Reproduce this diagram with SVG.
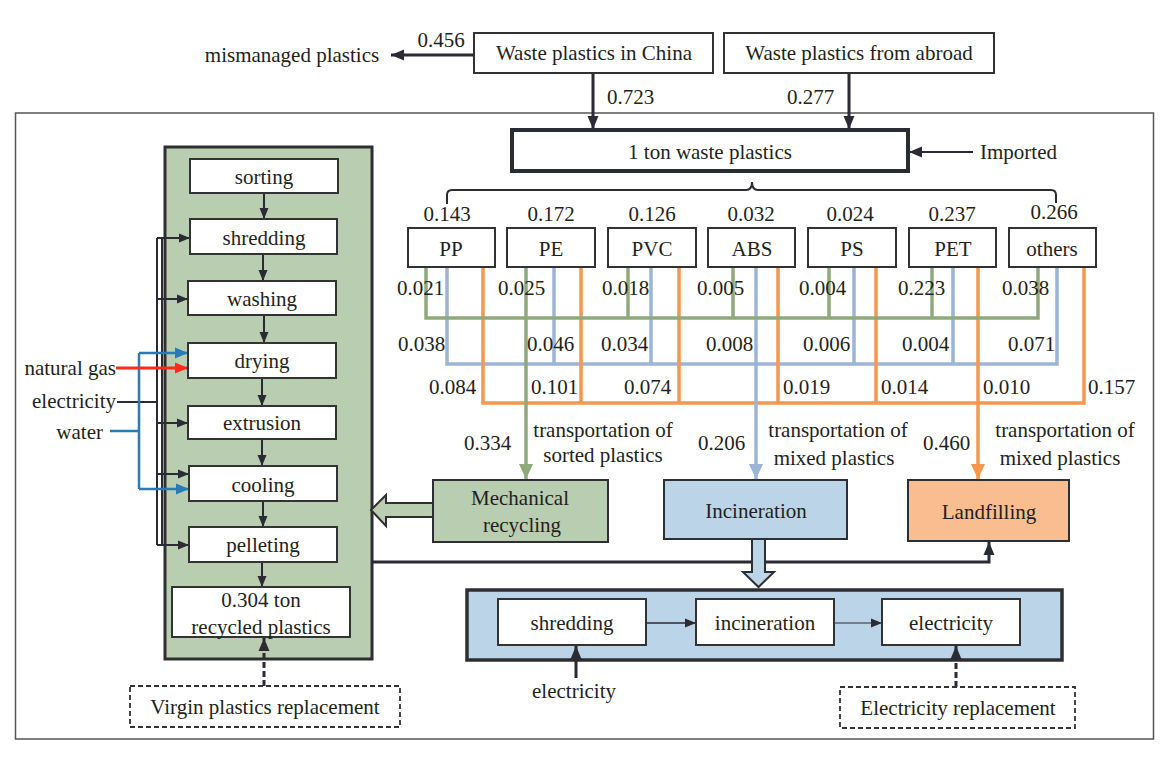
<svg xmlns="http://www.w3.org/2000/svg" width="1171" height="758" viewBox="0 0 1171 758" font-family="Liberation Serif, DejaVu Serif, Times New Roman, serif">
<defs>
<style>
text{font-family:"Liberation Serif","DejaVu Serif","Times New Roman",serif;font-size:21px;fill:#231f20}
.c{text-anchor:middle}
.r{text-anchor:end}
.box{fill:#fff;stroke:#333;stroke-width:2}
.dk{fill:none;stroke:#2b2b33;stroke-width:2}
.dk3{fill:none;stroke:#2b2b33;stroke-width:3}
.g{fill:none;stroke:#8eaa7b;stroke-width:3.5}
.b{fill:none;stroke:#9cb4d6;stroke-width:3.5}
.o{fill:none;stroke:#f8974c;stroke-width:3.5}
.dash{fill:#fff;stroke:#333;stroke-width:1.8;stroke-dasharray:5,3}
</style>
<marker id="ad" markerUnits="userSpaceOnUse" markerWidth="14" markerHeight="14" viewBox="0 0 14 14" refX="13" refY="7" orient="auto"><path d="M0,1.5 L13,7 L0,12.5 Z" fill="#2b2b33"/></marker>
<marker id="as" markerUnits="userSpaceOnUse" markerWidth="12" markerHeight="12" viewBox="0 0 12 12" refX="11" refY="6" orient="auto"><path d="M0,1.5 L11,6 L0,10.5 Z" fill="#2b2b33"/></marker>
<marker id="ag" markerUnits="userSpaceOnUse" markerWidth="16" markerHeight="16" viewBox="0 0 16 16" refX="15" refY="8" orient="auto"><path d="M0,1 L15,8 L0,15 Z" fill="#8eaa7b"/></marker>
<marker id="ab" markerUnits="userSpaceOnUse" markerWidth="16" markerHeight="16" viewBox="0 0 16 16" refX="15" refY="8" orient="auto"><path d="M0,1 L15,8 L0,15 Z" fill="#9cb4d6"/></marker>
<marker id="ao" markerUnits="userSpaceOnUse" markerWidth="16" markerHeight="16" viewBox="0 0 16 16" refX="15" refY="8" orient="auto"><path d="M0,1 L15,8 L0,15 Z" fill="#f8974c"/></marker>
<marker id="ar" markerUnits="userSpaceOnUse" markerWidth="14" markerHeight="14" viewBox="0 0 14 14" refX="13" refY="7" orient="auto"><path d="M0,1.5 L13,7 L0,12.5 Z" fill="#ff2a1a"/></marker>
<marker id="aw" markerUnits="userSpaceOnUse" markerWidth="14" markerHeight="14" viewBox="0 0 14 14" refX="13" refY="7" orient="auto"><path d="M0,1.5 L13,7 L0,12.5 Z" fill="#2a7ab5"/></marker>
</defs>
<rect width="1171" height="758" fill="#fff"/>

<!-- outer frame -->
<rect id="frame" x="15.5" y="113" width="1138" height="626" fill="none" stroke="#555" stroke-width="1.5"/>

<!-- panels -->
<g id="recycling-panel"><rect x="165" y="147" width="207" height="512" fill="#b9cdb0" stroke="#2f2f33" stroke-width="3"/></g>
<g id="incineration-panel"><rect x="467" y="590" width="595" height="70" fill="#bcd4e7" stroke="#2f2f33" stroke-width="3.5"/></g>

<g id="connectors">
  <line class="dk3" x1="474" y1="55" x2="391" y2="55" marker-end="url(#ad)"/>
  <line class="dk3" x1="593" y1="73" x2="593" y2="129" marker-end="url(#ad)"/>
  <line class="dk3" x1="849" y1="73" x2="849" y2="129" marker-end="url(#ad)"/>
  <line class="dk" x1="973" y1="152" x2="909" y2="152" marker-end="url(#ad)"/>
  <path class="dk" stroke-width="1.6" d="M447,204 V195 Q447,190 452,190 H746 Q752,190 752,182 Q752,190 758,190 H1051 Q1056,190 1056,195 V203"/>

  <path class="b" d="M447,267 V364 H1057 V267 M554,267 V364 M651,267 V364 M854,267 V364 M953,267 V364"/>
  <path class="o" d="M483,267 V403 H1084 V267 M581,267 V403 M679,267 V403 M778,267 V403 M876,267 V403"/>
  <path class="o" d="M978,267 V479" marker-end="url(#ao)"/>
  <path class="b" d="M756,267 V479" marker-end="url(#ab)"/>
  <path class="g" d="M426,267 V318 H1038 V267 M628,267 V318 M733,267 V318 M829,267 V318 M932,267 V318"/>
  <path class="g" d="M526,267 V479" marker-end="url(#ag)"/>

  <line class="dk" x1="264" y1="193" x2="264" y2="219" marker-end="url(#as)"/>
  <line class="dk" x1="263" y1="254" x2="263" y2="281" marker-end="url(#as)"/>
  <line class="dk" x1="264" y1="315" x2="264" y2="343" marker-end="url(#as)"/>
  <line class="dk" x1="262" y1="378" x2="262" y2="406" marker-end="url(#as)"/>
  <line class="dk" x1="262" y1="439" x2="262" y2="466" marker-end="url(#as)"/>
  <line class="dk" x1="263" y1="501" x2="263" y2="527" marker-end="url(#as)"/>
  <line class="dk" x1="262" y1="562" x2="262" y2="587" marker-end="url(#as)"/>

  <path class="dk" d="M117,402 H157 M157,238 V545 M162,238 V545"/>
  <line class="dk" x1="157" y1="238" x2="190" y2="238" marker-end="url(#as)"/>
  <line class="dk" x1="157" y1="299" x2="188" y2="299" marker-end="url(#as)"/>
  <line class="dk" x1="157" y1="423" x2="188" y2="423" marker-end="url(#as)"/>
  <line class="dk" x1="157" y1="474" x2="189" y2="474" marker-end="url(#as)"/>
  <line class="dk" x1="157" y1="545" x2="189" y2="545" marker-end="url(#as)"/>
  <path fill="none" stroke="#2a7ab5" stroke-width="2.5" d="M110,431 H139 M139,353 V489"/>
  <line stroke="#2a7ab5" stroke-width="2.5" x1="139" y1="353" x2="188" y2="353" marker-end="url(#aw)"/>
  <line stroke="#2a7ab5" stroke-width="2.5" x1="139" y1="489" x2="189" y2="489" marker-end="url(#aw)"/>
  <line stroke="#ff2a1a" stroke-width="3" x1="116" y1="368" x2="188" y2="368" marker-end="url(#ar)"/>

  <path class="dk3" d="M372,562 H989 V542" marker-end="url(#ad)"/>

  <polygon points="433,503 386,503 386,495 371,510 386,526 386,517 433,517" fill="#b9cdb0" stroke="#2f2f33" stroke-width="2"/>
  <polygon points="752,539 765,539 765,572 774,572 758.5,587 743,572 752,572" fill="#bcd4e7" stroke="#2f2f33" stroke-width="2"/>

  <line stroke="#2b2b33" stroke-width="1.5" x1="646" y1="623" x2="696" y2="623" marker-end="url(#as)"/>
  <line stroke="#2b2b33" stroke-width="1.2" x1="834" y1="623" x2="882" y2="623" marker-end="url(#as)"/>
  <line class="dk3" x1="576" y1="678" x2="576" y2="646" marker-end="url(#ad)"/>
  <line class="dk3" stroke-dasharray="6,3" x1="956" y1="687" x2="956" y2="646" marker-end="url(#ad)"/>
  <line class="dk3" stroke-dasharray="6,3" x1="264" y1="686" x2="264" y2="638" marker-end="url(#ad)"/>
</g>

<g id="mismanaged"><text class="c" x="292" y="62">mismanaged  plastics</text><text class="c" x="441" y="47">0.456</text></g>
<g id="china"><rect class="box" x="474" y="33" width="239" height="40"/><text class="c" x="594" y="60">Waste plastics in China</text></g>
<g id="abroad"><rect class="box" x="724" y="33" width="270" height="40"/><text class="c" x="859" y="60">Waste plastics from abroad</text></g>
<text x="607" y="104">0.723</text>
<text x="787" y="104">0.277</text>
<g id="one-ton"><rect x="512" y="130" width="396" height="41" fill="#fff" stroke="#2b2b33" stroke-width="4"/><text class="c" x="710" y="159">1 ton waste plastics</text></g>
<g id="imported"><text x="980" y="159">Imported</text></g>

<g id="pp"><rect class="box" x="408" y="228" width="87" height="39"/><text class="c" x="451" y="256">PP</text><text class="c" x="447" y="221">0.143</text></g>
<g id="pe"><rect class="box" x="507" y="228" width="88" height="39"/><text class="c" x="551" y="256">PE</text><text class="c" x="551" y="221">0.172</text></g>
<g id="pvc"><rect class="box" x="608" y="228" width="88" height="39"/><text class="c" x="652" y="256">PVC</text><text class="c" x="652" y="221">0.126</text></g>
<g id="abs"><rect class="box" x="708" y="228" width="87" height="39"/><text class="c" x="752" y="256">ABS</text><text class="c" x="751" y="221">0.032</text></g>
<g id="ps"><rect class="box" x="808" y="228" width="88" height="39"/><text class="c" x="852" y="256">PS</text><text class="c" x="850" y="221">0.024</text></g>
<g id="pet"><rect class="box" x="909" y="228" width="87" height="39"/><text class="c" x="953" y="256">PET</text><text class="c" x="952" y="221">0.237</text></g>
<g id="others"><rect class="box" x="1009" y="228" width="87" height="39"/><text class="c" x="1052" y="256">others</text><text class="c" x="1054" y="219">0.266</text></g>

<g id="labels">
  <text x="397" y="295">0.021</text><text x="498" y="295">0.025</text><text x="602" y="295">0.018</text><text x="697" y="295">0.005</text>
  <text x="799" y="295">0.004</text><text x="898" y="295">0.223</text><text x="1002" y="295">0.038</text>
  <text x="398" y="351">0.038</text><text x="527" y="351">0.046</text><text x="601" y="351">0.034</text><text x="706" y="351">0.008</text>
  <text x="803" y="351">0.006</text><text x="902" y="351">0.004</text><text x="1008" y="351">0.071</text>
  <text x="429" y="394">0.084</text><text x="531" y="394">0.101</text><text x="624" y="394">0.074</text><text x="783" y="394">0.019</text>
  <text x="881" y="394">0.014</text><text x="983" y="394">0.010</text><text x="1088" y="394">0.157</text>
  <text x="464" y="450">0.334</text>
  <text class="c" x="603" y="437">transportation of</text><text class="c" x="603" y="462">sorted plastics</text>
  <text x="698" y="450">0.206</text>
  <text class="c" x="838" y="437">transportation of</text><text class="c" x="834" y="465">mixed plastics</text>
  <text x="923" y="450">0.460</text>
  <text class="c" x="1065" y="437">transportation of</text><text class="c" x="1060" y="465">mixed plastics</text>
</g>

<g id="mechanical"><rect x="433" y="480" width="175" height="62" fill="#b9cdb0" stroke="#2f2f33" stroke-width="2"/><text class="c" x="520" y="505">Mechanical</text><text class="c" x="522" y="532">recycling</text></g>
<g id="incineration"><rect x="664" y="480" width="183" height="59" fill="#bcd4e7" stroke="#2f2f33" stroke-width="2"/><text class="c" x="756" y="518">Incineration</text></g>
<g id="landfilling"><rect x="908" y="480" width="161" height="61" fill="#f9bd8f" stroke="#2f2f33" stroke-width="2"/><text class="c" x="989" y="519">Landfilling</text></g>

<g id="sorting"><rect class="box" x="190" y="159" width="148" height="34"/><text class="c" x="264" y="184">sorting</text></g>
<g id="shredding"><rect class="box" x="190" y="219" width="147" height="35"/><text class="c" x="264" y="245">shredding</text></g>
<g id="washing"><rect class="box" x="188" y="281" width="148" height="34"/><text class="c" x="262" y="306">washing</text></g>
<g id="drying"><rect class="box" x="188" y="343" width="148" height="35"/><text class="c" x="262" y="368">drying</text></g>
<g id="extrusion"><rect class="box" x="188" y="406" width="148" height="33"/><text class="c" x="262" y="430">extrusion</text></g>
<g id="cooling"><rect class="box" x="189" y="466" width="148" height="35"/><text class="c" x="263" y="492">cooling</text></g>
<g id="pelleting"><rect class="box" x="189" y="527" width="148" height="35"/><text class="c" x="263" y="552">pelleting</text></g>
<g id="recycled"><rect class="box" x="172" y="587" width="178" height="50"/><text class="c" x="261" y="607">0.304 ton</text><text class="c" x="261" y="634">recycled  plastics</text></g>
<g id="inputs"><text class="r" x="116" y="375">natural gas</text><text class="r" x="116" y="408">electricity</text><text class="r" x="103" y="439">water</text></g>
<g id="virgin"><rect class="dash" x="130" y="686" width="270" height="41"/><text class="c" x="265" y="714">Virgin plastics replacement</text></g>

<g id="inc-shredding"><rect class="box" x="498" y="599" width="148" height="46"/><text class="c" x="572" y="630">shredding</text></g>
<g id="inc-incineration"><rect class="box" x="696" y="599" width="138" height="46"/><text class="c" x="765" y="630">incineration</text></g>
<g id="inc-electricity"><rect class="box" x="882" y="599" width="138" height="46"/><text class="c" x="951" y="630">electricity</text></g>
<g id="elec-in"><text class="c" x="574" y="698">electricity</text></g>
<g id="elec-rep"><rect class="dash" x="840" y="687" width="235" height="41"/><text class="c" x="958" y="715">Electricity replacement</text></g>
</svg>
